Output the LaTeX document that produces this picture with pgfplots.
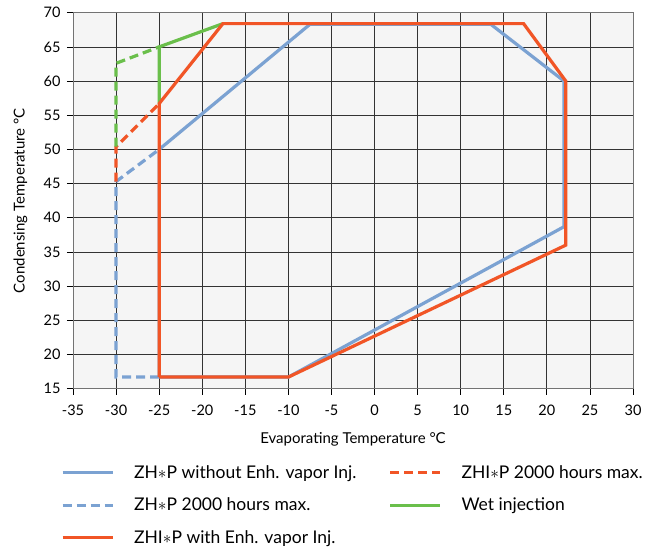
\documentclass[border=0pt]{standalone}
\usepackage{fontspec}
\setmainfont{Lato}
\usepackage{pgfplots}
\pgfplotsset{compat=1.18}
\definecolor{cblue}{HTML}{7BA2D2}
\definecolor{cred}{HTML}{F15526}
\definecolor{cgreen}{HTML}{6ABF4B}
\definecolor{bgc}{HTML}{F5F5F5}
\begin{document}
\begin{tikzpicture}
\useasboundingbox (-73pt,-158pt) rectangle (582pt,388.7pt);
\begin{axis}[
  scale only axis, width=560pt, height=376pt,
  xmin=-35, xmax=30, ymin=15, ymax=70,
  xtick={-35,-30,...,30}, ytick={15,20,...,70},
  grid=major, grid style={black!80, line width=0.7pt},
  axis line style={black!55, line width=0.8pt},
  axis background/.style={fill=bgc},
  tick align=outside, major tick length=6pt, tick style={black, line width=0.7pt},
  xtick pos=bottom, ytick pos=left,
  /pgf/number format/assume math mode=true,
  ticklabel style={font=\fontsize{14.5}{16}\selectfont},
  xticklabel style={yshift=-7pt},
  yticklabel style={xshift=-3pt},
  label style={font=\fontsize{15}{18}\selectfont},
  xlabel={Evaporating Temperature °C},
  ylabel={Condensing Temperature °C},
  xlabel style={at={(axis description cs:0.5,-0.134)}, anchor=center},
  ylabel style={at={(axis description cs:-0.094,0.5)}, anchor=center},
  legend columns=2,
  legend cell align=left,
  legend style={at={(axis description cs:-0.027,-0.193)}, anchor=north west,
    draw=none, fill=none, font=\fontsize{17.5}{20}\selectfont, row sep=14pt,
    /tikz/every odd column/.append style={column sep=18pt},
    /tikz/every even column/.append style={column sep=30pt}},
  legend image code/.code={\draw[#1] (0pt,0pt) -- (50pt,0pt);},
]
\addlegendimage{cblue, line width=3pt}
\addlegendentry{ZH$\ast$P without Enh. vapor Inj.}
\addlegendimage{cred, line width=3pt, dash pattern=on 9pt off 5pt}
\addlegendentry{ZHI$\ast$P 2000 hours max.}
\addlegendimage{cblue, line width=3pt, dash pattern=on 9pt off 5pt}
\addlegendentry{ZH$\ast$P 2000 hours max.}
\addlegendimage{cgreen, line width=3pt}
\addlegendentry{Wet injection}
\addlegendimage{cred, line width=3pt}
\addlegendentry{ZHI$\ast$P with Enh. vapor Inj.}

\addplot[forget plot, cblue, line width=3.2pt] coordinates {
  (-25,16.7) (-10,16.7) (22,38.7) (22,60) (13.5,68.3) (-7.5,68.3) (-25,50) (-25,16.7)};
\addplot[forget plot, cblue, line width=3.2pt, dash pattern=on 9pt off 5pt] coordinates {
  (-25,16.7) (-30,16.7) (-30,45.3) (-25,50)};
\addplot[forget plot, cred, line width=3.2pt, dash pattern=on 9pt off 5pt] coordinates {
  (-30,45.3) (-30,50.4) (-25,56.7)};
\addplot[forget plot, cgreen, line width=3.2pt, dash pattern=on 9pt off 5pt] coordinates {
  (-30,50.4) (-30,62.6) (-25,65)};
\addplot[forget plot, cgreen, line width=3.2pt] coordinates {
  (-25,56.7) (-25,65) (-17.6,68.4)};
\addplot[forget plot, cred, line width=3.2pt] coordinates {
  (-25,16.7) (-10,16.7) (22.2,36) (22.2,60) (17.3,68.4) (-17.6,68.4) (-25,56.7) (-25,16.7)};
\end{axis}
\end{tikzpicture}
\end{document}
